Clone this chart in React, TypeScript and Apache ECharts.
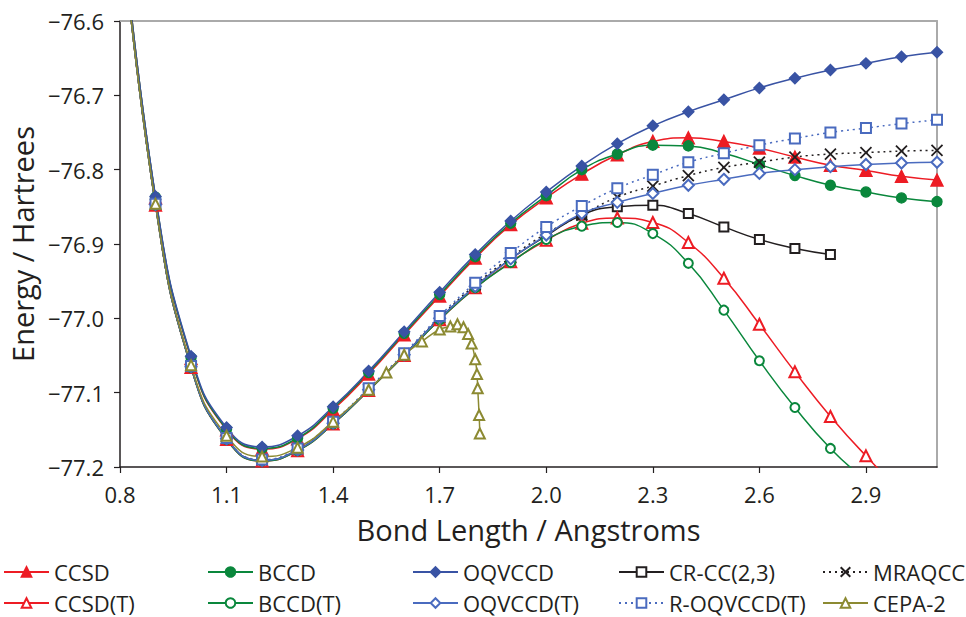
import React, { useEffect, useRef } from "react";
import * as echarts from "echarts";

// ---- data ----
const BOND = [0.8, 0.9, 1.0, 1.1, 1.2, 1.3, 1.4, 1.5, 1.6, 1.7, 1.8, 1.9, 2.0, 2.1, 2.2, 2.3, 2.4, 2.5, 2.6, 2.7, 2.8, 2.9, 3.0, 3.1];

const CCSD = [-76.44, -76.838, -77.054, -77.150, -77.176, -77.162, -77.123, -77.075, -77.022, -76.970, -76.919, -76.874, -76.838, -76.806, -76.780, -76.762, -76.757, -76.762, -76.771, -76.783, -76.794, -76.801, -76.809, -76.814];
const BCCD = [-76.44, -76.837, -77.053, -77.149, -77.175, -77.161, -77.121, -77.073, -77.020, -76.968, -76.917, -76.872, -76.835, -76.800, -76.779, -76.767, -76.768, -76.778, -76.793, -76.808, -76.821, -76.830, -76.838, -76.843];
const OQVCCD = [-76.44, -76.836, -77.051, -77.147, -77.173, -77.158, -77.119, -77.071, -77.018, -76.965, -76.914, -76.869, -76.830, -76.795, -76.765, -76.741, -76.722, -76.706, -76.690, -76.677, -76.666, -76.657, -76.648, -76.642];
const CRCC23 = [-76.45, -76.847, -77.065, -77.162, -77.191, -77.177, -77.141, -77.096, -77.049, -77.000, -76.957, -76.920, -76.889, -76.861, -76.850, -76.848, -76.859, -76.877, -76.894, -76.906, -76.914, null, null, null];
const MRAQCC = [-76.45, -76.847, -77.065, -77.162, -77.191, -77.177, -77.141, -77.096, -77.049, -76.999, -76.955, -76.918, -76.886, -76.861, -76.837, -76.822, -76.808, -76.797, -76.790, -76.783, -76.779, -76.777, -76.775, -76.774];
const CCSD_T = [-76.45, -76.848, -77.066, -77.163, -77.192, -77.178, -77.142, -77.097, -77.050, -77.002, -76.959, -76.924, -76.895, -76.872, -76.865, -76.871, -76.898, -76.946, -77.008, -77.072, -77.132, -77.185, -77.232, -77.270];
const BCCD_T = [-76.45, -76.848, -77.066, -77.163, -77.192, -77.178, -77.142, -77.097, -77.050, -77.002, -76.959, -76.925, -76.894, -76.876, -76.871, -76.886, -76.926, -76.989, -77.057, -77.120, -77.175, -77.218, -77.255, -77.285];
const OQVCCD_T = [-76.45, -76.847, -77.065, -77.162, -77.191, -77.177, -77.141, -77.096, -77.049, -77.000, -76.957, -76.920, -76.888, -76.859, -76.844, -76.832, -76.821, -76.813, -76.805, -76.800, -76.796, -76.793, -76.791, -76.790];
const R_OQVCCD_T = [-76.45, -76.846, -77.064, -77.161, -77.190, -77.175, -77.139, -77.094, -77.047, -76.997, -76.952, -76.912, -76.877, -76.849, -76.825, -76.807, -76.790, -76.778, -76.767, -76.758, -76.750, -76.744, -76.738, -76.733];

const CEPA_X = [0.8, 0.9, 1.0, 1.1, 1.2, 1.3, 1.4, 1.5, 1.55, 1.6, 1.65, 1.7, 1.73, 1.75, 1.767, 1.78, 1.79, 1.8, 1.805, 1.807, 1.811, 1.813];
const CEPA_2 = [-76.45, -76.846, -77.063, -77.158, -77.186, -77.174, -77.139, -77.096, -77.073, -77.049, -77.031, -77.015, -77.011, -77.008, -77.012, -77.021, -77.034, -77.055, -77.075, -77.094, -77.130, -77.155];

const X_TICKS = [0.8, 1.1, 1.4, 1.7, 2.0, 2.3, 2.6, 2.9];
const Y_TICKS = [-77.2, -77.1, -77.0, -76.9, -76.8, -76.7, -76.6];

const FONT = "'Open Sans', 'DejaVu Sans', sans-serif";
const INK = "#231f20";
const RED = "#ed1c24";
const GREEN = "#0a873c";
const BLUE = "#3953a4";
const BLUE2 = "#4a6bbf";
const OLIVE = "#8c8a32";

const pairs = (xs: number[], ys: (number | null)[]) => xs.map((x, i) => [x, ys[i]]);

type Def = { name: string; xs: number[]; ys: (number | null)[]; color: string; symbol: string; size: number; dotted?: boolean; bw?: number };

const DEFS: Def[] = [
  { name: "CCSD", xs: BOND, ys: CCSD, color: RED, symbol: "triangle", size: 12 },
  { name: "BCCD", xs: BOND, ys: BCCD, color: GREEN, symbol: "circle", size: 10 },
  { name: "OQVCCD", xs: BOND, ys: OQVCCD, color: BLUE, symbol: "diamond", size: 11 },
  { name: "CR-CC(2,3)", xs: BOND, ys: CRCC23, color: INK, symbol: "emptyRect", size: 9 },
  { name: "MRAQCC", xs: BOND, ys: MRAQCC, color: INK, symbol: "path://M0,0L10,10M10,0L0,10", size: 11, dotted: true, bw: 1.8 },
  { name: "CCSD(T)", xs: BOND, ys: CCSD_T, color: RED, symbol: "emptyTriangle", size: 11 },
  { name: "BCCD(T)", xs: BOND, ys: BCCD_T, color: GREEN, symbol: "emptyCircle", size: 9 },
  { name: "OQVCCD(T)", xs: BOND, ys: OQVCCD_T, color: BLUE2, symbol: "emptyDiamond", size: 11 },
  { name: "R-OQVCCD(T)", xs: BOND, ys: R_OQVCCD_T, color: BLUE2, symbol: "emptyRect", size: 10, dotted: true },
  { name: "CEPA-2", xs: CEPA_X, ys: CEPA_2, color: OLIVE, symbol: "emptyTriangle", size: 10 },
];

const LEG_COLS = [3, 207, 412, 618, 822];
const LEG_ROWS = [561, 592];

export default function App() {
  const ref = useRef<HTMLDivElement>(null);
  useEffect(() => {
    if (!ref.current) return;
    const chart = echarts.init(ref.current, null, { renderer: "svg" });
    const series = DEFS.map((d) => ({
      name: d.name,
      type: "line",
      data: pairs(d.xs, d.ys),
      smooth: 0.5,
      symbol: d.symbol,
      symbolSize: d.size,
      showAllSymbol: true,
      clip: true,
      connectNulls: false,
      lineStyle: { color: d.color, width: 1.5, type: d.dotted ? [2, 4] : "solid" },
      itemStyle: { color: d.color, borderColor: d.color, borderWidth: d.bw ?? 1.4 },
      emphasis: { disabled: true },
    }));
    const legends = DEFS.map((d, i) => ({
      data: [d.name],
      left: LEG_COLS[i % 5],
      top: LEG_ROWS[Math.floor(i / 5)],
      padding: 0,
      itemWidth: 45,
      itemHeight: 12,
      itemGap: 0,
      selectedMode: false,
      textStyle: { fontSize: 22, color: INK, fontFamily: FONT },
    }));
    chart.setOption({
      animation: false,
      backgroundColor: "#ffffff",
      grid: { left: 117, right: 29, top: 21, bottom: 150, containLabel: false },
      legend: legends,
      xAxis: [
        {
          type: "value",
          min: 0.8,
          max: 3.1,
          position: "bottom",
          axisLine: { onZero: false, lineStyle: { color: INK, width: 1.5 } },
          axisTick: { show: true, customValues: X_TICKS, length: 6, lineStyle: { color: INK, width: 1.2 } },
          axisLabel: { customValues: X_TICKS, formatter: (v: number) => v.toFixed(1), fontSize: 22, color: INK, fontFamily: FONT, margin: 16 },
          splitLine: { show: false },
          name: "Bond Length / Angstroms",
          nameLocation: "middle",
          nameGap: 48,
          nameTextStyle: { fontSize: 29, color: INK, fontFamily: FONT },
        },
        {
          type: "value",
          min: 0.8,
          max: 3.1,
          position: "top",
          axisLine: { show: true, onZero: false, lineStyle: { color: "#aaaaaa", width: 2 } },
          axisTick: { show: false },
          axisLabel: { show: false },
          splitLine: { show: false },
        },
      ],
      yAxis: [
        {
          type: "value",
          min: -77.2,
          max: -76.6,
          position: "left",
          axisLine: { show: true, onZero: false, lineStyle: { color: INK, width: 1.5 } },
          axisTick: { show: true, customValues: Y_TICKS, length: 6, lineStyle: { color: INK, width: 1.2 } },
          axisLabel: {
            customValues: Y_TICKS,
            formatter: (v: number) => (v < 0 ? "\u2212" : "") + Math.abs(v).toFixed(1),
            fontSize: 22,
            color: INK,
            fontFamily: FONT,
            margin: 16,
          },
          splitLine: { show: false },
          name: "Energy / Hartrees",
          nameLocation: "middle",
          nameGap: 82,
          nameTextStyle: { fontSize: 29, color: INK, fontFamily: FONT },
        },
        {
          type: "value",
          min: -77.2,
          max: -76.6,
          position: "right",
          axisLine: { show: true, onZero: false, lineStyle: { color: "#aaaaaa", width: 2 } },
          axisTick: { show: false },
          axisLabel: { show: false },
          splitLine: { show: false },
        },
      ],
      series,
    });
    return () => chart.dispose();
  }, []);
  return <div ref={ref} style={{ position: "fixed", left: 0, top: 0, width: 966, height: 617, background: "#fff" }} />;
}
